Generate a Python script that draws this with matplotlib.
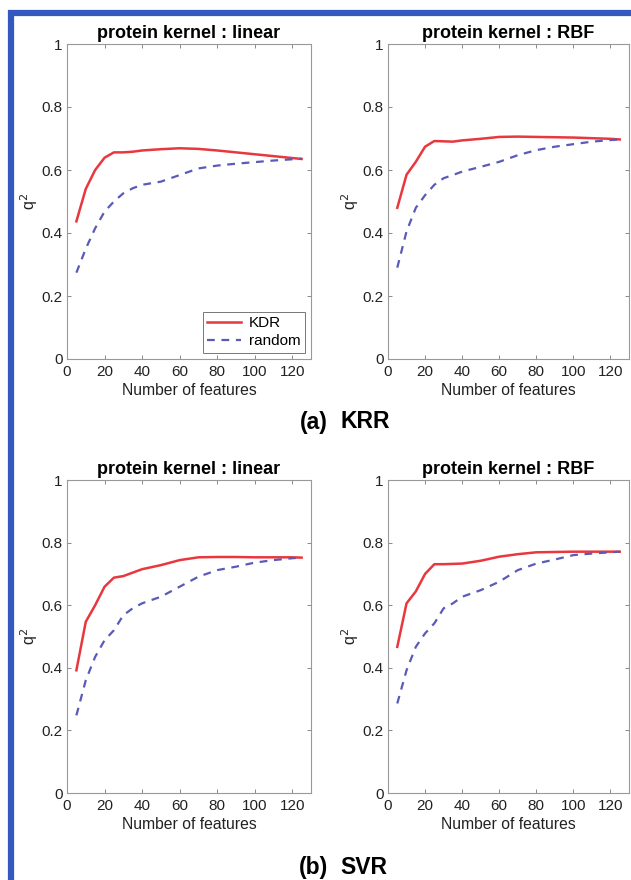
import numpy as np
import matplotlib
matplotlib.use("Agg")
import matplotlib.pyplot as plt
from matplotlib.lines import Line2D

plt.rcParams['font.family'] = ['Liberation Sans', 'DejaVu Sans']

# Number of features at which q^2 was evaluated
n_features = [5, 10, 15, 20, 25, 30, 35, 40, 50, 60, 70, 80, 90, 100, 110, 120, 125]

# (a) KRR
krr_linear_kdr = [0.437, 0.540, 0.600, 0.639, 0.656, 0.656, 0.658, 0.662, 0.666, 0.669,
                  0.667, 0.662, 0.656, 0.650, 0.644, 0.638, 0.635]
krr_linear_rand = [0.274, 0.350, 0.415, 0.468, 0.500, 0.526, 0.542, 0.553, 0.563, 0.584,
                   0.605, 0.614, 0.620, 0.625, 0.630, 0.634, 0.636]
krr_rbf_kdr = [0.480, 0.585, 0.626, 0.674, 0.692, 0.691, 0.690, 0.694, 0.699, 0.705,
               0.706, 0.705, 0.704, 0.703, 0.701, 0.699, 0.697]
krr_rbf_rand = [0.290, 0.405, 0.480, 0.520, 0.553, 0.574, 0.584, 0.595, 0.610, 0.626,
                0.647, 0.663, 0.674, 0.682, 0.690, 0.695, 0.697]

# (b) SVR
svr_linear_kdr = [0.392, 0.547, 0.600, 0.659, 0.688, 0.693, 0.704, 0.715, 0.728, 0.744,
                  0.753, 0.754, 0.754, 0.753, 0.753, 0.753, 0.752]
svr_linear_rand = [0.248, 0.360, 0.435, 0.488, 0.520, 0.568, 0.590, 0.606, 0.627, 0.659,
                   0.691, 0.712, 0.723, 0.736, 0.744, 0.750, 0.752]
svr_rbf_kdr = [0.467, 0.606, 0.644, 0.700, 0.731, 0.731, 0.732, 0.733, 0.742, 0.755,
               0.763, 0.769, 0.770, 0.771, 0.771, 0.771, 0.771]
svr_rbf_rand = [0.286, 0.392, 0.467, 0.510, 0.542, 0.590, 0.606, 0.627, 0.648, 0.675,
                0.712, 0.733, 0.746, 0.760, 0.765, 0.769, 0.771]

titles = ['protein kernel : linear', 'protein kernel : RBF']
panels = [
    (krr_linear_kdr, krr_linear_rand), (krr_rbf_kdr, krr_rbf_rand),
    (svr_linear_kdr, svr_linear_rand), (svr_rbf_kdr, svr_rbf_rand),
]

W, H = 631, 880
fig = plt.figure(figsize=(W / 100, H / 100), dpi=100)

# axes boxes in pixels: left, top, right, bottom
boxes = [
    (67, 44, 311, 359), (388, 44, 629, 359),
    (67, 480, 311, 793), (388, 480, 629, 793),
]

red = '#e8383d'
blue = '#5a5ab8'

for i, ((kdr, rnd), (l, t, r, b)) in enumerate(zip(panels, boxes)):
    ax = fig.add_axes([l / W, 1 - b / H, (r - l) / W, (b - t) / H])
    ax.plot(n_features, kdr, color=red, lw=1.8, label='KDR')
    ax.plot(n_features, rnd, color=blue, lw=1.6, ls=(0, (3.5, 3)), label='random')
    ax.set_xlim(0, 130)
    ax.set_ylim(0, 1)
    ax.set_xticks([0, 20, 40, 60, 80, 100, 120])
    ax.set_yticks([0, 0.2, 0.4, 0.6, 0.8, 1])
    ax.set_yticklabels(['0', '0.2', '0.4', '0.6', '0.8', '1'])
    ax.tick_params(direction='in', top=True, right=True, length=3, width=0.6,
                   color='#777777', labelsize=11, labelcolor='#222222', pad=3)
    ax.tick_params(axis='x', pad=4)
    for s in ax.spines.values():
        s.set_color('#999999')
        s.set_linewidth(0.8)
    ax.set_title(titles[i % 2], fontsize=13, fontweight='bold', pad=4)
    ax.set_xlabel('Number of features', fontsize=11.3, labelpad=3, color='#222222')
    ax.set_ylabel(r'q$^2$', fontsize=11.5, labelpad=1, color='#222222')
    if i == 0:
        leg = ax.legend(loc='lower right', fontsize=11, frameon=True, fancybox=False,
                        handlelength=2.2, borderpad=0.3, labelspacing=0.25,
                        borderaxespad=0.4, handletextpad=0.5)
        leg.get_frame().set_edgecolor('#555555')
        leg.get_frame().set_linewidth(0.7)

# panel captions: "(a)" lighter, "KRR" bold
for tag, name, yc in [('(a)', 'KRR', 422), ('(b)', 'SVR', 867)]:
    fig.text(328 / W, 1 - yc / H, tag, ha='right', va='center', fontsize=16.5,
             fontweight='semibold')
    fig.text(340 / W, 1 - yc / H, name, ha='left', va='center', fontsize=16.5,
             fontweight='bold')

# blue frame around the figure (left and top edges)
border = '#3558c0'
fig.add_artist(Line2D([11 / W, 11 / W], [0, 1 - 10 / H], transform=fig.transFigure,
                      color=border, lw=4.5, solid_capstyle='butt'))
fig.add_artist(Line2D([8 / W, 1], [1 - 13 / H, 1 - 13 / H], transform=fig.transFigure,
                      color=border, lw=4.5, solid_capstyle='butt'))

fig.savefig('out.png', dpi=100)
